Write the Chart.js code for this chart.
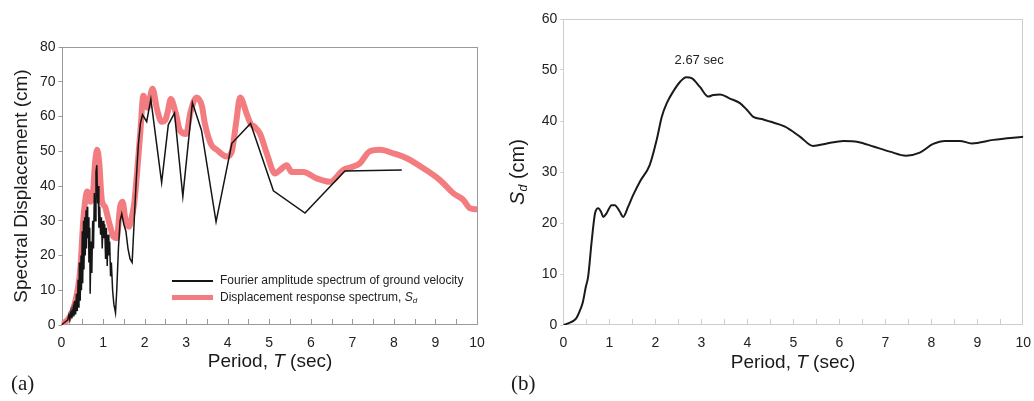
<!DOCTYPE html>
<html>
<head>
<meta charset="utf-8">
<script src="https://cdn.jsdelivr.net/npm/chart.js@4.4.0/dist/chart.umd.min.js"></script>
<style>
body{margin:0;background:#fff;font-family:"Liberation Sans",Arial,sans-serif;color:#1a1a1a}
#wrap{position:relative;width:1034px;height:401px;overflow:hidden}
canvas{position:absolute;top:0}
.lbl{position:absolute;white-space:nowrap;transform:translate(-50%,-50%);line-height:1}
.rot{transform:translate(-50%,-50%) rotate(-90deg)}
.lbl sub{font-size:0.62em;vertical-align:-0.25em}
.tag{position:absolute;font-family:"Liberation Serif","Times New Roman",serif;font-size:21px;line-height:1}
</style>
</head>
<body>
<div id="wrap">
  <canvas id="specA" width="500" height="401" style="left:0"></canvas>
  <canvas id="specB" width="529" height="401" style="left:505px"></canvas>
  <div class="lbl rot" style="left:19.5px;top:186px;font-size:19px">Spectral Displacement (cm)</div>
  <div class="lbl" style="left:270px;top:360px;font-size:19px">Period, <i>T</i> (sec)</div>
  <div class="lbl rot" style="left:518px;top:172px;font-size:20px"><i>S<sub>d</sub></i> (cm)</div>
  <div class="lbl" style="left:793px;top:361px;font-size:19px">Period, <i>T</i> (sec)</div>
  <div class="tag" style="left:11px;top:373px">(a)</div>
  <div class="tag" style="left:511px;top:373px">(b)</div>
</div>
<script>
// (a) Fourier amplitude spectrum of ground velocity (scaled), period in sec
const fourierT = [0,0.05,0.1,0.15,0.18,0.2,0.23,0.25,0.28,0.3,
  0.32,0.34,0.36,0.38,0.40,0.42,0.43,0.45,0.47,0.48,
  0.50,0.51,0.53,0.54,0.56,0.57,0.59,0.60,0.62,0.63,
  0.65,0.66,0.68,0.69,0.71,0.73,0.75,0.77,0.79,0.81,
  0.83,0.85,0.87,0.88,0.90,0.92,0.94,0.96,0.98,1.00,
  1.02,1.04,1.06,1.08,1.10,1.12,1.14,1.16,1.18,1.20,
  1.23,1.26,1.30,1.33,1.37,1.41,1.45,1.50,1.55,1.60,
  1.65,1.70,1.75,1.80,1.85,1.90,1.95,2.05,2.15,2.41,
  2.57,2.72,2.92,3.15,3.37,3.72,4.10,4.55,5.10,5.86,
  6.82,8.19];
const fourierCm = [0,0.5,1,1.5,3,1.5,4,2,5,2.5,
  7,3,9,4,13,5,18,7,20,10,
  27,12,30,16,31,20,33,22,34,25,
  31,18,28,9,24,15,30,22,38,30,
  44,46,35,40,28,34,26,31,22,30,
  25,29,19,28,17,26,20,24,14,18,
  10,6,3.5,10,22,30,32,29,27,22,
  19,18,30,42,52,58,60.5,58.5,65,41,
  57.6,61,37,64,56,29.7,52.3,58,38.6,32.2,
  44.3,44.6];

// (a) displacement response spectrum Sd
const sdAT = [0,0.2,0.32,0.45,0.53,0.62,0.69,0.75,0.81,0.86,
  0.91,0.97,1.05,1.11,1.18,1.25,1.33,1.41,1.47,1.54,
  1.62,1.69,1.75,1.82,1.9,1.97,2.07,2.19,2.3,2.41,
  2.5,2.55,2.63,2.75,2.85,3.0,3.1,3.25,3.38,3.45,
  3.6,3.73,3.98,4.1,4.2,4.3,4.45,4.55,4.65,4.78,
  4.95,5.14,5.26,5.42,5.54,5.82,6.14,6.46,6.78,7.0,
  7.18,7.42,7.67,7.99,8.31,8.71,9.11,9.43,9.67,9.83,
  10];
const sdACm = [0,2.4,6.2,15.8,31,38.4,35.5,37,47,50.4,
  46.5,36,34,31.2,28,25.4,25,34,35.5,30.2,
  28.3,31,35,44,56,66,62.5,68,62,58.5,
  59,61,65,61,56,55,61,65.5,63,58,
  52,50.5,48.5,50,58,65.5,61,58,57,55,
  49,43.6,44.6,46,44,44,42.2,41.2,44.6,45.5,
  46.5,50,50.4,49.4,48,45.1,41.7,37.9,36,33.6,
  33.3];

// (b) Sd spectrum, peak at 2.67 sec
const sdBT = [0,0.18,0.28,0.35,0.42,0.49,0.54,0.62,0.69,0.76,
  0.82,0.87,0.94,1.05,1.12,1.23,1.30,1.41,1.52,1.67,
  1.88,2.03,2.14,2.25,2.39,2.54,2.67,2.79,2.97,3.15,
  3.26,3.41,3.62,3.84,3.99,4.13,4.35,4.49,4.82,5.15,
  5.43,5.73,6.09,6.41,6.74,7.10,7.45,7.75,8.04,8.30,
  8.62,8.88,9.35,10];
const sdBCm = [0,0.6,1.3,2.6,4.3,7.5,9.5,16.7,21.9,22.9,
  22.2,21.2,21.9,23.5,23.5,22.2,21.2,23.2,25.5,28.2,
  31.4,36.3,40.8,43.5,45.8,47.7,48.6,48.4,46.7,44.8,
  45.1,45.2,44.4,43.5,42.2,40.8,40.3,39.9,38.9,36.9,
  35.1,35.6,36.1,35.9,35.0,34.0,33.2,33.8,35.5,36.1,
  36.1,35.6,36.3,36.9];

const peakPeriod = 2.67;
const peakLabel = '2.67 sec';

const SANS = '"Liberation Sans", Arial, sans-serif';
const pts = (xs, ys) => xs.map((x, i) => ({ x, y: ys[i] }));

// box round the plot + inward tick marks every half second on the period axis
const framePlugin = {
  id: 'frame',
  beforeDatasetsDraw(chart, args, opts){
    const { ctx, chartArea: a, scales: { x } } = chart;
    ctx.save();
    ctx.strokeStyle = opts.color;
    ctx.lineWidth = 1;
    ctx.strokeRect(Math.round(a.left) + 0.5, Math.round(a.top) + 0.5, Math.round(a.width) - 1, Math.round(a.height) - 1);
    ctx.beginPath();
    for (let t = 0.5; t < 10; t += 0.5){
      const px = Math.round(x.getPixelForValue(t)) + 0.5;
      ctx.moveTo(px, a.bottom);
      ctx.lineTo(px, a.bottom - opts.tick);
    }
    ctx.stroke();
    ctx.restore();
  }
};

// legend box inside panel (a)
const legendPlugin = {
  id: 'innerLegend',
  afterDraw(chart, args, opts){
    if (!opts.show) return;
    const { ctx } = chart;
    const ds = chart.data.datasets;
    ctx.save();
    ctx.textBaseline = 'middle';
    ds.forEach((d, i) => {
      const y = opts.y + i * opts.gap;
      ctx.strokeStyle = d.borderColor;
      ctx.lineWidth = i === 0 ? 2 : 5;
      ctx.beginPath();
      ctx.moveTo(opts.x, y);
      ctx.lineTo(opts.x + 41, y);
      ctx.stroke();
      ctx.fillStyle = '#222';
      ctx.font = '12px ' + SANS;
      ctx.fillText(d.label, opts.x + 48, y);
      if (d.symbol){
        const w = ctx.measureText(d.label).width;
        ctx.font = 'italic 12px ' + SANS;
        ctx.fillText('S', opts.x + 48 + w, y);
        const ws = ctx.measureText('S').width;
        ctx.font = 'italic 8px ' + SANS;
        ctx.fillText('d', opts.x + 48 + w + ws, y + 3);
      }
    });
    ctx.restore();
  }
};

// period label above the spectral peak in panel (b)
const peakPlugin = {
  id: 'peakNote',
  afterDatasetsDraw(chart, args, opts){
    if (!opts.show) return;
    const { ctx, scales: { x, y } } = chart;
    const peak = sdBCm[sdBT.indexOf(peakPeriod)];
    ctx.save();
    ctx.font = '13px ' + SANS;
    ctx.fillStyle = '#222';
    ctx.textAlign = 'center';
    ctx.textBaseline = 'middle';
    ctx.fillText(peakLabel, x.getPixelForValue(peakPeriod) + 13, y.getPixelForValue(peak) - 17);
    ctx.restore();
  }
};

function makeOptions(yMax, axisColor, yWidth, pad, extra){
  return {
    responsive: false,
    animation: false,
    layout: { padding: pad },
    elements: { point: { radius: 0 } },
    scales: {
      x: {
        type: 'linear', min: 0, max: 10,
        ticks: { stepSize: 1, color: '#222', font: { family: SANS, size: 14 }, padding: 2, maxRotation: 0, autoSkip: false },
        grid: { display: false },
        border: { display: false },
        afterFit: s => { s.height = 76; }
      },
      y: {
        min: 0, max: yMax,
        ticks: { stepSize: 10, color: '#222', font: { family: SANS, size: 14 }, padding: 3 },
        grid: { drawOnChartArea: false, tickLength: 3, color: axisColor },
        border: { display: false },
        afterFit: s => { s.width = yWidth; }
      }
    },
    plugins: Object.assign({
      legend: { display: false },
      tooltip: { enabled: false },
      frame: { color: axisColor, tick: 6 },
      innerLegend: { show: false },
      peakNote: { show: false }
    }, extra)
  };
}

new Chart(document.getElementById('specA'), {
  type: 'line',
  data: {
    datasets: [
      { label: 'Fourier amplitude spectrum of ground velocity', data: pts(fourierT, fourierCm),
        borderColor: '#151515', borderWidth: 1.5, tension: 0 },
      { label: 'Displacement response spectrum, ', symbol: true, data: pts(sdAT, sdACm),
        borderColor: 'rgb(242,124,128)', borderWidth: 6, cubicInterpolationMode: 'monotone',
        borderJoinStyle: 'round', borderCapStyle: 'round' }
    ]
  },
  options: makeOptions(80, '#9a9a9a', 61.5, { left: 0, top: 47, right: 23, bottom: 0 },
    { innerLegend: { show: true, x: 172, y: 281, gap: 16.5 } }),
  plugins: [framePlugin, legendPlugin]
});

new Chart(document.getElementById('specB'), {
  type: 'line',
  data: {
    datasets: [
      { label: 'Sd', data: pts(sdBT, sdBCm), borderColor: '#1a1a1a', borderWidth: 2,
        cubicInterpolationMode: 'monotone', borderJoinStyle: 'round' }
    ]
  },
  options: makeOptions(60, '#cdcdcd', 58.3, { left: 0, top: 19, right: 10.7, bottom: 0 },
    { peakNote: { show: true } }),
  plugins: [framePlugin, peakPlugin]
});
</script>
</body>
</html>
